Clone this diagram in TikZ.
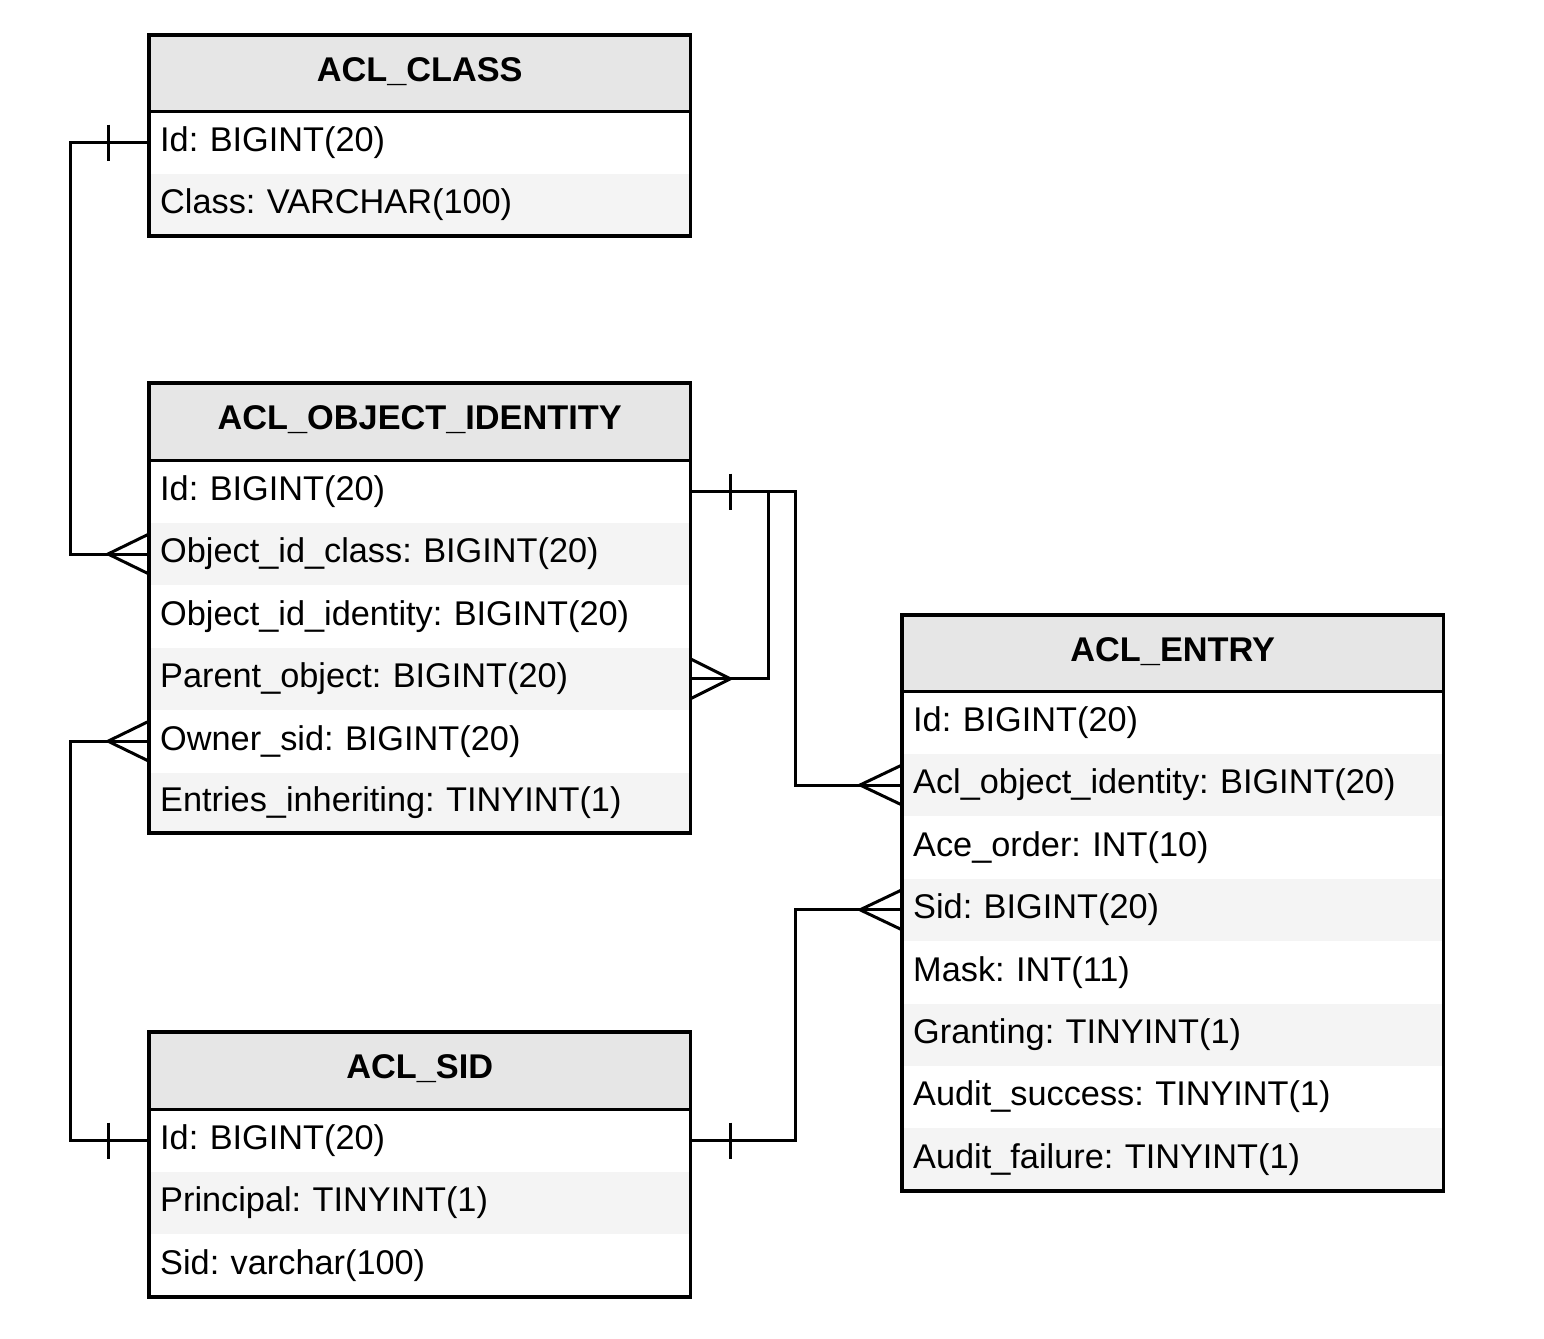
\documentclass[tikz,border=0pt]{standalone}
\usepackage{fontspec}
\setmainfont{Liberation Sans}
\frenchspacing
\definecolor{hdrgray}{HTML}{E6E6E6}
\definecolor{rowgray}{HTML}{F4F4F4}
\tikzset{
  tblhead/.style={rectangle, anchor=north west, fill=hdrgray, minimum width=541pt, minimum height=76pt, inner sep=0pt, font=\fontsize{34.3}{40}\selectfont\bfseries},
  rowbase/.style={rectangle, anchor=north west, text width=519pt, inner xsep=11pt, inner ysep=0pt, minimum height=62pt, align=left, font=\fontsize{34.3}{40}\selectfont},
  roww/.style={rowbase, fill=white},
  rowg/.style={rowbase, fill=rowgray},
  border/.style={line width=3.8pt, line join=miter},
  conn/.style={line width=3pt, line join=miter},
}
\begin{document}
\begin{tikzpicture}[x=1pt,y=-1pt]
\useasboundingbox (0,0) rectangle (1544,1338);

% ACL_CLASS
\node[tblhead] (cls-h) at (149,35) {\raisebox{0pt}[\height][\dimexpr\depth+4pt]{ACL\_CLASS}};
\node[roww] (cls-1) at (cls-h.south west) {Id: BIGINT(20)};
\node[rowg] (cls-2) at (cls-1.south west) {Class: VARCHAR(100)};
\draw[border] (cls-h.north west) rectangle (cls-2.south east);
\draw[border] (cls-h.south west) -- (cls-h.south east);

% ACL_OBJECT_IDENTITY
\node[tblhead, minimum height=77pt] (oi-h) at (149,383) {\raisebox{0pt}[\height][\dimexpr\depth+4pt]{ACL\_OBJECT\_IDENTITY}};
\node[roww] (oi-1) at (oi-h.south west) {Id: BIGINT(20)};
\node[rowg] (oi-2) at (oi-1.south west) {Object\_id\_class: BIGINT(20)};
\node[roww] (oi-3) at (oi-2.south west) {Object\_id\_identity: BIGINT(20)};
\node[rowg] (oi-4) at (oi-3.south west) {Parent\_object: BIGINT(20)};
\node[roww] (oi-5) at (oi-4.south west) {Owner\_sid: BIGINT(20)};
\node[rowg, minimum height=60pt] (oi-6) at (oi-5.south west) {Entries\_inheriting: TINYINT(1)};
\draw[border] (oi-h.north west) rectangle (oi-6.south east);
\draw[border] (oi-h.south west) -- (oi-h.south east);

% ACL_ENTRY
\node[tblhead] (en-h) at (902,615) {\raisebox{0pt}[\height][\dimexpr\depth+4pt]{ACL\_ENTRY}};
\node[roww] (en-1) at (en-h.south west) {Id: BIGINT(20)};
\node[rowg] (en-2) at (en-1.south west) {Acl\_object\_identity: BIGINT(20)};
\node[roww] (en-3) at (en-2.south west) {Ace\_order: INT(10)};
\node[rowg] (en-4) at (en-3.south west) {Sid: BIGINT(20)};
\node[roww] (en-5) at (en-4.south west) {Mask: INT(11)};
\node[rowg] (en-6) at (en-5.south west) {Granting: TINYINT(1)};
\node[roww] (en-7) at (en-6.south west) {Audit\_success: TINYINT(1)};
\node[rowg] (en-8) at (en-7.south west) {Audit\_failure: TINYINT(1)};
\draw[border] (en-h.north west) rectangle (en-8.south east);
\draw[border] (en-h.south west) -- (en-h.south east);

% ACL_SID
\node[tblhead, minimum height=77pt] (sid-h) at (149,1032) {\raisebox{0pt}[\height][\dimexpr\depth+4pt]{ACL\_SID}};
\node[roww] (sid-1) at (sid-h.south west) {Id: BIGINT(20)};
\node[rowg] (sid-2) at (sid-1.south west) {Principal: TINYINT(1)};
\node[roww] (sid-3) at (sid-2.south west) {Sid: varchar(100)};
\draw[border] (sid-h.north west) rectangle (sid-3.south east);
\draw[border] (sid-h.south west) -- (sid-h.south east);

% Connector 1: ACL_CLASS.Id -> OI.Object_id_class
\draw[conn] (cls-1.west) -- ++(-79,0) |- (oi-2.west);
\draw[conn] ([xshift=-41pt,yshift=18pt]cls-1.west) -- ([xshift=-41pt,yshift=-18pt]cls-1.west);
\draw[conn] ([yshift=20pt]oi-2.west) -- ([xshift=-41pt]oi-2.west) -- ([yshift=-20pt]oi-2.west);

% Connector 2: OI.Id -> OI.Parent_object
\draw[conn] (oi-1.east) -- ++(78,0) |- (oi-4.east);
\draw[conn] ([xshift=40pt,yshift=18pt]oi-1.east) -- ([xshift=40pt,yshift=-18pt]oi-1.east);
\draw[conn] ([yshift=20pt]oi-4.east) -- ([xshift=40pt]oi-4.east) -- ([yshift=-20pt]oi-4.east);

% Connector 3: OI.Id -> ENTRY.Acl_object_identity
\draw[conn] (oi-1.east) -- ++(105,0) |- (en-2.west);
\draw[conn] ([yshift=20pt]en-2.west) -- ([xshift=-42pt]en-2.west) -- ([yshift=-20pt]en-2.west);

% Connector 4: SID.Id -> OI.Owner_sid
\draw[conn] (sid-1.west) -- ++(-79,0) |- (oi-5.west);
\draw[conn] ([xshift=-41pt,yshift=18pt]sid-1.west) -- ([xshift=-41pt,yshift=-18pt]sid-1.west);
\draw[conn] ([yshift=20pt]oi-5.west) -- ([xshift=-41pt]oi-5.west) -- ([yshift=-20pt]oi-5.west);

% Connector 5: SID.Id -> ENTRY.Sid
\draw[conn] (sid-1.east) -- ++(105,0) |- (en-4.west);
\draw[conn] ([xshift=40pt,yshift=18pt]sid-1.east) -- ([xshift=40pt,yshift=-18pt]sid-1.east);
\draw[conn] ([yshift=20pt]en-4.west) -- ([xshift=-42pt]en-4.west) -- ([yshift=-20pt]en-4.west);
\end{tikzpicture}
\end{document}
